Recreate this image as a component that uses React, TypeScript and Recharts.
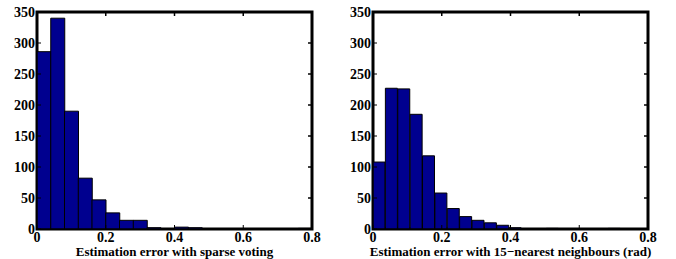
import React from 'react';
import { ComposedChart, Bar, XAxis, YAxis, ReferenceArea, ReferenceLine } from 'recharts';

// bin centres and counts
const sparseBins = [0.02, 0.06, 0.1, 0.14, 0.18, 0.22, 0.26, 0.3, 0.34, 0.38, 0.42, 0.46, 0.5, 0.54, 0.58, 0.62, 0.66, 0.7, 0.74, 0.78];
const sparseCounts = [286, 340, 190, 82, 47, 26, 14, 14, 2, 0, 3, 2, 0, 0, 0, 0, 0, 0, 0, 1];

const knnBins = [0.018, 0.054, 0.09, 0.126, 0.162, 0.198, 0.234, 0.27, 0.306, 0.342, 0.378, 0.414, 0.45, 0.486, 0.522, 0.558, 0.594, 0.63, 0.666, 0.702];
const knnCounts = [108, 227, 226, 185, 118, 58, 33, 20, 14, 10, 6, 2, 0, 0, 1, 0, 0, 0, 0, 1];

const xTicks = [0, 0.2, 0.4, 0.6, 0.8];
const yTicks = [0, 50, 100, 150, 200, 250, 300, 350];

const sparseLabel = 'Estimation error with sparse voting';
const knnLabel = 'Estimation error with 15\u2212nearest neighbours (rad)';

const font = '"Liberation Serif", "Times New Roman", serif';
const X_MAX = 0.8;
const Y_MAX = 350;
// inward tick length on the top/right sides, in data units (~4px)
const xTickLen = 0.0116;
const yTickLen = 6.5;

const XTick = (props: any) => (
  <text x={props.x} y={props.y} dy="0.71em" textAnchor="middle" fill="#000"
    style={{ fontFamily: font, fontSize: 14, fontWeight: 700 }}>
    {String(props.payload.value)}
  </text>
);

const YTick = (props: any) => (
  <text x={props.x} y={props.y} dy="0.35em" textAnchor="end" fill="#000"
    style={{ fontFamily: font, fontSize: 14, fontWeight: 700 }}>
    {String(props.payload.value)}
  </text>
);

interface HistProps {
  bins: number[];
  counts: number[];
  label: string;
  left: number;
}

const Hist: React.FC<HistProps> = ({ bins, counts, label, left }) => {
  const data = bins.map((b, i) => ({ x: b, n: counts[i] }));
  return (
    <div style={{ position: 'absolute', left, top: 0 }}>
      <ComposedChart
        width={330}
        height={259}
        data={data}
        margin={{ top: 12, right: 18, bottom: 0, left: 0 }}
        barCategoryGap={0}
        barGap={0}
      >
        <XAxis
          dataKey="x"
          type="number"
          domain={[0, X_MAX]}
          ticks={xTicks}
          height={30}
          stroke="#000"
          tickSize={-4}
          tickMargin={7}
          tick={<XTick />}
          label={{ value: label, position: 'insideBottom', offset: 3, fill: '#000', fontSize: 13, fontWeight: 700, fontFamily: font }}
        />
        <YAxis
          domain={[0, Y_MAX]}
          ticks={yTicks}
          width={37}
          stroke="#000"
          tickSize={-4}
          tickMargin={6}
          tick={<YTick />}
        />
        <Bar dataKey="n" fill="#00008f" stroke="#000" strokeWidth={1} isAnimationActive={false} />
        {/* box round the axes, as in MATLAB (same settings as the red test that drew) */}
        <ReferenceArea x1={0} x2={X_MAX} y1={0} y2={Y_MAX} fill="#ffffff" fillOpacity={0.2} stroke="#000000" strokeWidth={3} ifOverflow="visible" />
        {xTicks.map((t) => (
          <ReferenceLine key={'tx' + t} segment={[{ x: t, y: Y_MAX }, { x: t, y: Y_MAX - yTickLen }]} stroke="#000" strokeWidth={1.5} ifOverflow="visible" />
        ))}
        {yTicks.map((t) => (
          <ReferenceLine key={'ty' + t} segment={[{ x: X_MAX, y: t }, { x: X_MAX - xTickLen, y: t }]} stroke="#000" strokeWidth={1.5} ifOverflow="visible" />
        ))}
      </ComposedChart>
    </div>
  );
};

export default function App() {
  return (
    <div style={{ position: 'absolute', left: 0, top: 0, width: 676, height: 259, background: '#fff' }}>
      <Hist bins={sparseBins} counts={sparseCounts} label={sparseLabel} left={0} />
      <Hist bins={knnBins} counts={knnCounts} label={knnLabel} left={336} />
    </div>
  );
}
